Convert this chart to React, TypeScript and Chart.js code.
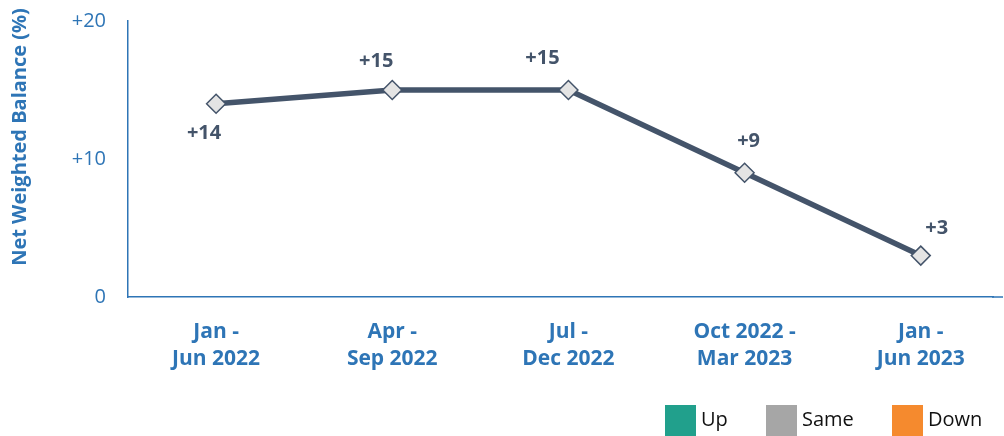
import React, { useEffect, useRef } from "react";
import { Chart, registerables } from "chart.js";

Chart.register(...registerables);

const categories: string[][] = [
  ["Jan -", "Jun 2022"],
  ["Apr -", "Sep 2022"],
  ["Jul -", "Dec 2022"],
  ["Oct 2022 -", "Mar 2023"],
  ["Jan -", "Jun 2023"],
];
const balance: number[] = [14, 15, 15, 9, 3];
const yTicks: number[] = [0, 10, 20];
const yTitle = "Net Weighted Balance (%)";
const legendItems: string[] = ["Up", "Same", "Down"];
const legendColors: string[] = ["#21A08C", "#A6A6A6", "#F58A2E"];

const labelOffsets: [number, number][] = [
  [-12, 29],
  [-16, -29],
  [-26, -32],
  [4, -32],
  [16, -27],
];

const FONT = "'Open Sans', 'Noto Sans', sans-serif";
const BLUE = "#2E75B6";
const LINE = "#44546A";

const fmt = (v: number) => (v > 0 ? "+" + v : String(v));

const labelPlugin = {
  id: "pointLabels",
  afterDatasetsDraw(chart: any) {
    const ctx = chart.ctx;
    const meta = chart.getDatasetMeta(0);
    ctx.save();
    ctx.font = `bold 20px ${FONT}`;
    ctx.fillStyle = LINE;
    ctx.textAlign = "center";
    ctx.textBaseline = "middle";
    meta.data.forEach((pt: any, i: number) => {
      const [dx, dy] = labelOffsets[i];
      ctx.fillText(fmt(balance[i]), pt.x + dx, pt.y + dy);
    });
    ctx.restore();
  },
};

const titlePlugin = {
  id: "yTitle",
  afterDraw(chart: any) {
    const ctx = chart.ctx;
    ctx.save();
    ctx.translate(20, 137);
    ctx.rotate(-Math.PI / 2);
    ctx.font = `bold 20px ${FONT}`;
    ctx.fillStyle = BLUE;
    ctx.textAlign = "center";
    ctx.textBaseline = "middle";
    ctx.fillText(yTitle, 0, 0);
    ctx.restore();
  },
};

const axisExtendPlugin = {
  id: "axisExtend",
  afterDraw(chart: any) {
    const ctx = chart.ctx;
    const y = chart.scales.y.getPixelForValue(0);
    ctx.save();
    ctx.strokeStyle = BLUE;
    ctx.lineWidth = 1.5;
    ctx.beginPath();
    ctx.moveTo(chart.chartArea.right - 1, y);
    ctx.lineTo(1003, y);
    ctx.stroke();
    ctx.restore();
  },
};

const legendPlugin = {
  id: "customLegend",
  afterDraw(chart: any) {
    const ctx = chart.ctx;
    const xs = [665, 766, 892];
    ctx.save();
    ctx.font = `20px ${FONT}`;
    ctx.textBaseline = "middle";
    ctx.textAlign = "left";
    legendItems.forEach((name, i) => {
      ctx.fillStyle = legendColors[i];
      ctx.fillRect(xs[i], 405, 31, 31);
      ctx.fillStyle = "#111111";
      ctx.fillText(name, xs[i] + 36, 420);
    });
    ctx.restore();
  },
};

export default function App() {
  const ref = useRef<HTMLCanvasElement | null>(null);
  useEffect(() => {
    if (!ref.current) return;
    const chart = new Chart(ref.current, {
      type: "line",
      data: {
        datasets: [
          {
            data: balance.map((v, i) => ({ x: i, y: v })),
            borderColor: LINE,
            borderWidth: 5.5,
            pointStyle: "rectRot",
            pointRadius: 9.5,
            pointBackgroundColor: "#E4E4E4",
            pointBorderColor: LINE,
            pointBorderWidth: 1.5,
            tension: 0,
          },
        ],
      },
      options: {
        animation: false,
        responsive: false,
        maintainAspectRatio: false,
        layout: { padding: { top: 21, right: 0, bottom: 0, left: 0 } },
        plugins: { legend: { display: false }, tooltip: { enabled: false } },
        scales: {
          x: {
            type: "linear",
            min: -0.5,
            max: 4.41,
            afterFit: (s: any) => {
              s.height = 139;
              s.paddingLeft = 0;
              s.paddingRight = 0;
            },
            afterBuildTicks: (s: any) => {
              s.ticks = categories.map((_, i) => ({ value: i }));
            },
            grid: { display: false, drawTicks: false },
            border: { display: true, color: BLUE, width: 1.5 },
            ticks: {
              color: BLUE,
              padding: 21,
              maxRotation: 0,
              autoSkip: false,
              font: { family: FONT, size: 21, weight: "bold", lineHeight: 1.3 },
              callback: (v: any) => categories[v] ?? "",
            },
          },
          y: {
            min: 0,
            max: 20,
            afterFit: (s: any) => {
              s.width = 128;
              s.paddingTop = 0;
              s.paddingBottom = 0;
            },
            afterBuildTicks: (s: any) => {
              s.ticks = yTicks.map((v) => ({ value: v }));
            },
            grid: { display: false, drawTicks: false },
            border: { display: true, color: BLUE, width: 1.5 },
            ticks: {
              color: BLUE,
              padding: 22,
              font: { family: FONT, size: 20 },
              callback: (v: any) => fmt(Number(v)),
            },
          },
        },
      },
      plugins: [labelPlugin, titlePlugin, axisExtendPlugin, legendPlugin],
    } as any);
    return () => chart.destroy();
  }, []);
  return (
    <div style={{ position: "absolute", left: 0, top: 0, width: 1004, height: 436 }}>
      <canvas ref={ref} width={1004} height={436} style={{ display: "block" }} />
    </div>
  );
}
